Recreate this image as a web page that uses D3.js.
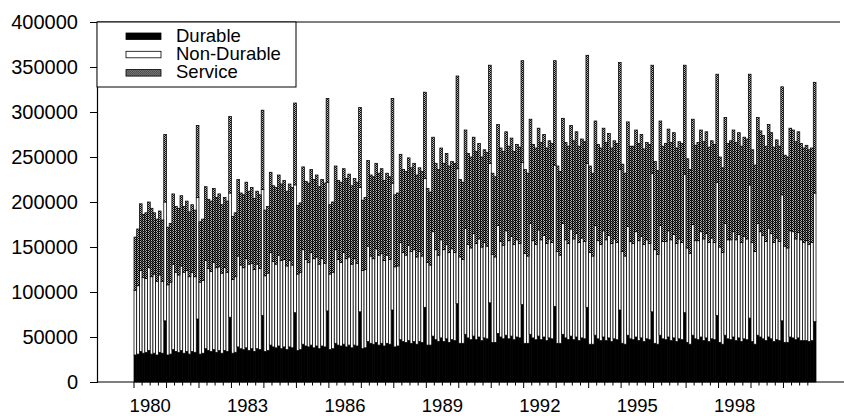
<!DOCTYPE html>
<html>
<head>
<meta charset="utf-8">
<script src="https://cdn.jsdelivr.net/npm/d3@7"></script>
<style>
  body { margin: 0; background: #fff; }
  svg { display: block; font-family: "Liberation Sans", Arial, sans-serif; }
</style>
</head>
<body>
<div id="chart"></div>
<script>
// monthly values, thousands, Jan 1980 .. Dec 2000 (one row per year)
const durable = [
  30,31,34,32,33,35,31,32,30,33,32,68,
  30,31,36,34,33,35,32,34,31,34,33,70,
  31,32,37,35,34,36,33,35,32,35,34,72,
  32,33,39,37,36,38,35,37,34,37,36,74,
  34,35,41,39,38,40,37,39,36,39,38,77,
  35,36,42,40,39,41,38,40,37,40,39,79,
  36,37,43,41,40,42,39,41,38,41,40,78,
  37,38,45,43,42,44,41,43,40,43,42,80,
  39,40,47,45,44,46,43,45,42,45,44,83,
  41,41,51,47,45,49,45,48,44,47,46,87,
  43,43,53,49,47,51,47,50,46,49,48,88,
  44,44,54,50,48,52,48,51,47,50,49,86,
  43,43,53,49,47,51,47,50,46,49,48,84,
  43,43,53,49,47,51,47,50,46,49,48,83,
  42,42,52,48,46,50,46,49,45,48,47,80,
  43,42,52,48,47,50,46,49,45,48,47,78,
  43,42,52,48,47,50,46,49,45,48,47,77,
  44,42,52,48,47,50,46,49,45,48,47,74,
  44,42,52,48,47,50,46,49,45,48,47,71,
  45,42,52,50,48,46,50,48,45,47,46,68,
  44,44,50,49,47,49,46,46,46,45,46,67
];
const nonDurable = [
  72,76,90,84,82,92,86,88,82,86,80,132,
  78,80,95,88,86,94,90,90,86,88,84,135,
  80,81,98,91,89,97,94,93,89,92,88,138,
  82,84,101,93,91,99,96,95,91,94,90,140,
  84,86,103,95,93,101,98,97,93,96,92,142,
  85,86,105,96,94,103,99,99,94,97,93,143,
  84,85,104,95,93,102,98,98,93,96,92,138,
  87,87,106,97,95,104,100,100,95,98,94,141,
  89,89,108,99,97,106,102,102,97,100,96,143,
  92,89,116,100,96,109,102,105,100,101,98,150,
  96,93,118,104,102,114,107,109,104,106,103,155,
  98,95,120,106,104,116,109,111,106,108,105,158,
  100,97,123,108,106,118,111,113,108,110,107,157,
  102,98,123,109,107,119,112,115,109,111,108,160,
  102,98,122,109,107,118,112,114,109,111,108,156,
  102,98,121,108,107,117,111,113,108,110,107,154,
  104,100,122,108,109,118,112,115,109,111,108,154,
  105,101,123,109,110,117,113,116,110,112,108,148,
  106,102,124,110,111,117,112,115,110,114,112,148,
  110,103,124,117,115,110,121,117,110,113,110,140,
  107,105,118,118,112,117,112,109,111,108,109,143
];
const service = [
  59,63,74,70,73,73,76,68,69,71,68,75,
  64,65,78,73,74,78,73,77,72,75,74,80,
  67,68,82,77,78,82,78,81,76,78,79,85,
  70,71,85,80,81,85,81,84,79,81,82,88,
  73,74,89,84,85,89,85,88,83,85,86,91,
  76,77,92,87,88,92,88,91,86,88,89,93,
  77,78,93,88,89,93,89,92,87,89,90,89,
  78,80,95,90,91,95,91,94,89,91,92,94,
  80,81,98,92,93,97,93,96,91,93,94,96,
  82,81,105,96,95,102,96,101,96,97,99,103,
  86,86,109,101,101,107,102,106,100,103,104,109,
  90,89,112,104,104,110,105,109,103,106,107,113,
  93,92,116,107,107,113,108,112,106,109,110,116,
  95,93,117,108,108,115,109,113,107,110,111,120,
  96,92,116,107,107,114,108,113,106,109,110,119,
  97,92,116,106,108,113,108,113,106,108,110,120,
  98,93,116,106,109,113,108,113,106,108,110,121,
  99,93,117,106,109,113,108,113,106,108,109,120,
  100,94,118,107,110,113,108,113,107,110,111,123,
  103,96,118,112,111,106,115,112,106,109,106,120,
  101,101,114,113,108,112,107,105,106,105,105,123
];
const seriesNames = ["Durable", "Non-Durable", "Service"];
const yTicks = [0, 50000, 100000, 150000, 200000, 250000, 300000, 350000, 400000];
const yearLabels = ["1980", "1983", "1986", "1989", "1992", "1995", "1998"];
const UNIT = 1000;

const width = 844, height = 416;
const months = d3.timeMonth.range(new Date(1980, 0, 1), new Date(2001, 0, 1));

const rows = months.map((m, i) => ({
  date: m,
  "Durable": durable[i] * UNIT,
  "Non-Durable": nonDurable[i] * UNIT,
  "Service": service[i] * UNIT
}));

const svg = d3.select("#chart").append("svg")
  .attr("width", width)
  .attr("height", height);

// stipple fill for the service layer
const defs = svg.append("defs");
const pat = defs.append("pattern")
  .attr("id", "stipple")
  .attr("width", 2).attr("height", 2)
  .attr("patternUnits", "userSpaceOnUse");
pat.append("rect").attr("width", 2).attr("height", 2).attr("fill", "#bbb");
pat.append("rect").attr("width", 1).attr("height", 1).attr("fill", "#000");
pat.append("rect").attr("x", 1).attr("y", 1).attr("width", 1).attr("height", 1).attr("fill", "#111");

const fills = { "Durable": "#000", "Non-Durable": "#fff", "Service": "url(#stipple)" };

const x0 = 134, x1 = 816;
const x = d3.scaleBand().domain(d3.range(months.length)).range([x0, x1]).padding(0);
const xt = d3.scaleTime().domain([new Date(1980, 0, 1), new Date(2001, 0, 1)]).range([x0, x1]);
const y = d3.scaleLinear().domain([0, 400000]).range([382, 22]);

const layers = d3.stack().keys(seriesNames)(rows);

svg.append("g")
  .selectAll("g")
  .data(layers)
  .join("g")
  .attr("fill", d => fills[d.key])
  .selectAll("rect")
  .data(d => d)
  .join("rect")
  .attr("x", (d, i) => x(i))
  .attr("y", d => y(d[1]))
  .attr("width", x.bandwidth())
  .attr("height", d => y(d[0]) - y(d[1]))
  .attr("stroke", "#000")
  .attr("stroke-width", 0.75);

// frame lines
svg.append("line").attr("x1", 97).attr("x2", 840).attr("y1", 22).attr("y2", 22)
  .attr("stroke", "#000").attr("stroke-width", 1);
svg.append("line").attr("x1", 97).attr("x2", 844).attr("y1", y(0)).attr("y2", y(0))
  .attr("stroke", "#000").attr("stroke-width", 1.2);

// y axis
const yAxis = svg.append("g")
  .attr("transform", "translate(97,0)")
  .call(d3.axisLeft(y).tickValues(yTicks).tickSize(7).tickPadding(12).tickFormat(d3.format("d")));
yAxis.select(".domain").attr("stroke-width", 1.2);
yAxis.selectAll("text").attr("font-size", 20).attr("fill", "#000")
  .attr("font-family", "Liberation Sans, Arial, sans-serif");

// x ticks: quarters, longer at years
const quarters = d3.timeMonth.every(3).range(new Date(1980, 0, 1), new Date(2001, 0, 1));
svg.append("g").selectAll("line")
  .data(quarters)
  .join("line")
  .attr("x1", d => xt(d)).attr("x2", d => xt(d))
  .attr("y1", y(0))
  .attr("y2", d => y(0) + (d.getMonth() === 0 ? 6 : 3.5))
  .attr("stroke", "#000").attr("stroke-width", 1);

svg.append("g").selectAll("text")
  .data(yearLabels)
  .join("text")
  .attr("x", d => xt(new Date(+d, 6, 1)))
  .attr("y", 412)
  .attr("text-anchor", "middle")
  .attr("font-size", 18.5)
  .text(d => d);

// legend
const lg = svg.append("g");
lg.append("rect").attr("x", 97).attr("y", 22).attr("width", 199).attr("height", 65)
  .attr("fill", "#fff").attr("stroke", "#000").attr("stroke-width", 1);
const item = lg.selectAll("g.item")
  .data(seriesNames)
  .join("g")
  .attr("class", "item")
  .attr("transform", (d, i) => `translate(0,${i * 18.3})`);
item.append("rect")
  .attr("x", 126).attr("y", 33).attr("width", 35).attr("height", 6.5)
  .attr("fill", d => fills[d]).attr("stroke", "#000").attr("stroke-width", 0.8);
item.append("text")
  .attr("x", 176).attr("y", 41.5)
  .attr("font-size", 18.5)
  .text(d => d);
</script>
</body>
</html>
